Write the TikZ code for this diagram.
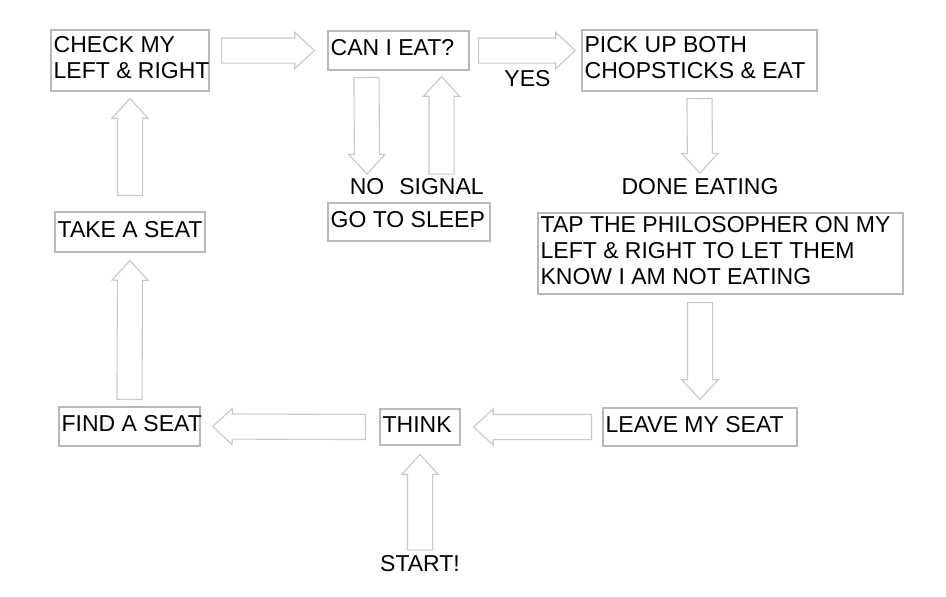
\documentclass[tikz,border=0pt]{standalone}
\usepackage{fontspec}
\setmainfont{Liberation Sans}
\usetikzlibrary{shapes.arrows,calc}
\definecolor{boxgray}{RGB}{185,185,185}
\definecolor{arrgray}{RGB}{200,200,200}
% hollow block arrow from #1 (tail) to #2 (tip)
\newcommand\blockarrow[2]{%
	\path let \p1=(#1), \p2=(#2), \n1={atan2(\y2-\y1,\x2-\x1)}, \n2={veclen(\x2-\x1,\y2-\y1)} in
		node[fatarrow,minimum height=\n2,rotate=\n1,anchor=tail] at (\p1) {};}
\begin{document}
\begin{tikzpicture}[x=1pt,y=-1pt,font=\fontsize{23}{26}\selectfont,
		box/.style={draw=boxgray,line width=1.1pt,inner sep=0pt},
		txt/.style={anchor=west,align=left,inner xsep=3pt,inner ysep=0pt,yshift=2.5},
		lbl/.style={inner sep=0pt},
		fatarrow/.style={single arrow,draw=arrgray,line width=1.1pt,fill=white,inner xsep=0pt,inner ysep=12pt,
			single arrow head extend=5.5pt,single arrow head indent=0pt,single arrow tip angle=85,outer sep=0pt}]
	\useasboundingbox (0,0) rectangle (946,597);
	%===========================================
	\node[box,minimum width=158,minimum height=61,label={[txt]west:CHECK MY\\LEFT \& RIGHT}] (check) at (130,60.5) {};
	\node[box,minimum width=141,minimum height=39,label={[txt]west:CAN I EAT?}] (caneat) at (398.5,50.5) {};
	\node[box,minimum width=235,minimum height=61,label={[txt]west:PICK UP BOTH\\CHOPSTICKS \& EAT}] (pickup) at (699.5,60.5) {};
	\node[box,minimum width=162,minimum height=38,label={[txt]west:GO TO SLEEP}] (sleep) at (409,222) {};
	\node[box,minimum width=365,minimum height=81,label={[txt]west:TAP THE PHILOSOPHER ON MY\\LEFT \& RIGHT TO LET THEM\\KNOW I AM NOT EATING}] (tap) at (720.5,253.5) {};
	\node[box,minimum width=150,minimum height=40,label={[txt]west:TAKE A SEAT}] (take) at (130,232) {};
	\node[box,minimum width=141,minimum height=39,label={[txt]west:FIND A SEAT}] (find) at (129.5,426.5) {};
	\node[box,minimum width=80,minimum height=36,label={[txt]west:THINK}] (think) at (420,427) {};
	\node[box,minimum width=194,minimum height=38,label={[txt]west:LEAVE MY SEAT}] (leave) at (700,427) {};
	%===========================================
	\node[lbl] (yes) at (527.5,79) {YES};
	\node[lbl] (no) at (367,186.5) {NO};
	\node[lbl] (signal) at (441.5,186.5) {SIGNAL};
	\node[lbl] (done) at (700,186.5) {DONE EATING};
	\node[lbl] (start) at (420,563.5) {START!};
	%===========================================
	\blockarrow{$(check.east|-caneat.west)+(12,0)$}{$(caneat.west)+(-13,0)$}
	\blockarrow{$(caneat.east)+(9,0)$}{$(pickup.west|-caneat.east)+(-6,0)$}
	\blockarrow{$(caneat.south)+(-32,7)$}{$(no.north)+(0,-4)$}
	\blockarrow{$(signal.north)+(0,-4)$}{$(caneat.south-|signal.north)+(0,6)$}
	\blockarrow{$(pickup.south)+(0,7)$}{$(done.north)+(0,-5)$}
	\blockarrow{$(leave.north|-tap.south)+(0,8)$}{$(leave.north)+(0,-8)$}
	\blockarrow{$(leave.west)+(-11,0)$}{$(think.east)+(13,0)$}
	\blockarrow{$(think.west)+(-14,0)$}{$(find.east)+(12,0)$}
	\blockarrow{$(find.north)+(0,-7)$}{$(take.south)+(0,8)$}
	\blockarrow{$(take.north)+(0,-16)$}{$(check.south)+(0,7)$}
	\blockarrow{$(start.north)+(0,-5)$}{$(think.south)+(0,9)$}
\end{tikzpicture}
\end{document}
